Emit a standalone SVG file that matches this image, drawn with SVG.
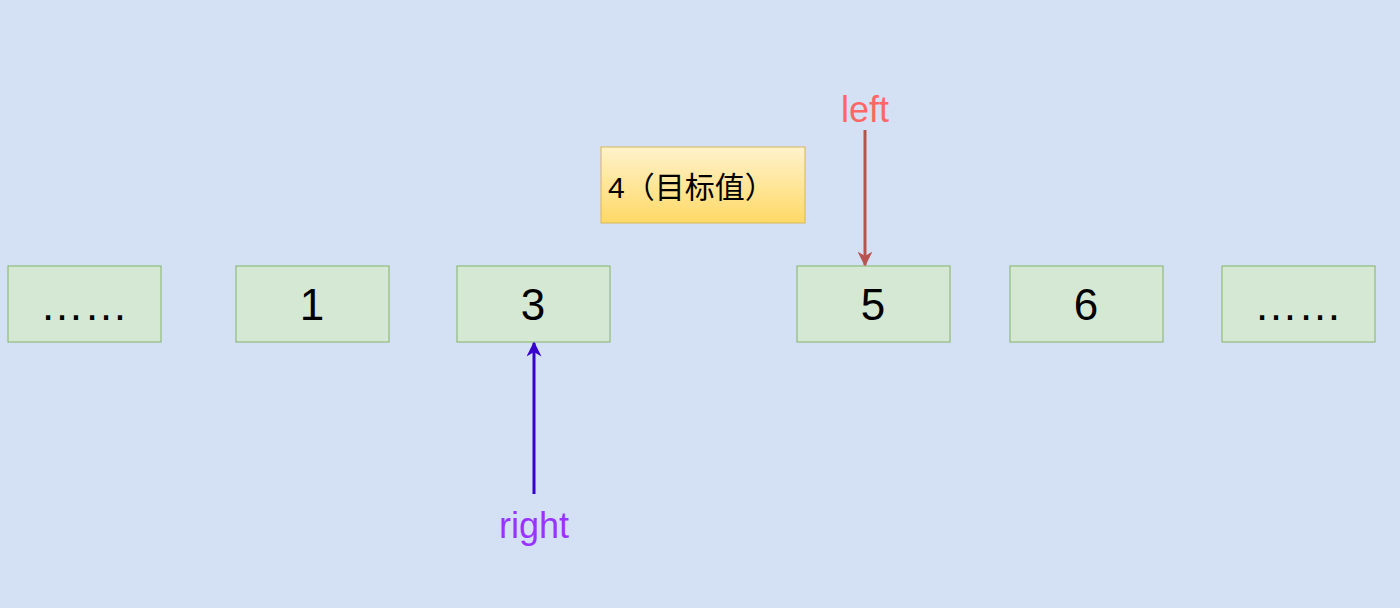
<svg xmlns="http://www.w3.org/2000/svg" width="1400" height="608" viewBox="0 0 1400 608">
<style>
.box{fill:#d5e8d4;stroke:#82b366;stroke-width:1}
.num{font-family:"Liberation Sans",Arial,sans-serif;font-size:44px;text-anchor:middle;fill:#000}
.lbl{font-family:"Liberation Sans",Arial,sans-serif;font-size:36px;text-anchor:middle}
</style>
<defs>
<linearGradient id="yg" x1="0" y1="0" x2="0" y2="1"><stop offset="0" stop-color="#fff2cc"/><stop offset="1" stop-color="#ffd966"/></linearGradient>
<marker id="ar" viewBox="0 0 10 10" refX="9" refY="5" markerWidth="5" markerHeight="5" orient="auto"><path d="M0,0 L10,5 L0,10 L3,5 z" fill="#b85450"/></marker>
<marker id="ab" viewBox="0 0 10 10" refX="9" refY="5" markerWidth="5" markerHeight="5" orient="auto"><path d="M0,0 L10,5 L0,10 L3,5 z" fill="#3700cc"/></marker>
</defs>
<rect width="1400" height="608" fill="#d4e1f5"/>
<g id="n0"><rect class="box" x="8" y="266" width="153" height="76"/><text class="num" x="84" y="320">……</text></g>
<g id="n1"><rect class="box" x="236" y="266" width="153" height="76"/><text class="num" x="312" y="320">1</text></g>
<g id="n3"><rect class="box" x="457" y="266" width="153" height="76"/><text class="num" x="533" y="320">3</text></g>
<g id="n5"><rect class="box" x="797" y="266" width="153" height="76"/><text class="num" x="873" y="320">5</text></g>
<g id="n6"><rect class="box" x="1010" y="266" width="153" height="76"/><text class="num" x="1086" y="320">6</text></g>
<g id="n7"><rect class="box" x="1222" y="266" width="153" height="76"/><text class="num" x="1298" y="320">……</text></g>
<g id="target"><rect x="601" y="147" width="204" height="76" fill="url(#yg)" stroke="#d6b656"/><text x="608" y="198" font-family="'Liberation Sans','Noto Sans CJK SC',sans-serif" font-size="30" fill="#000">4（目标值）</text></g>
<g id="leftlbl"><text class="lbl" x="865" y="122" fill="#ff6666">left</text></g>
<g id="rightlbl"><text class="lbl" x="534" y="538" fill="#9933ff">right</text></g>
<g id="connectors">
<line x1="865" y1="130" x2="865" y2="265" stroke="#b85450" stroke-width="3" marker-end="url(#ar)"/>
<line x1="534" y1="494" x2="534" y2="343" stroke="#3700cc" stroke-width="3" marker-end="url(#ab)"/>
</g>
</svg>
